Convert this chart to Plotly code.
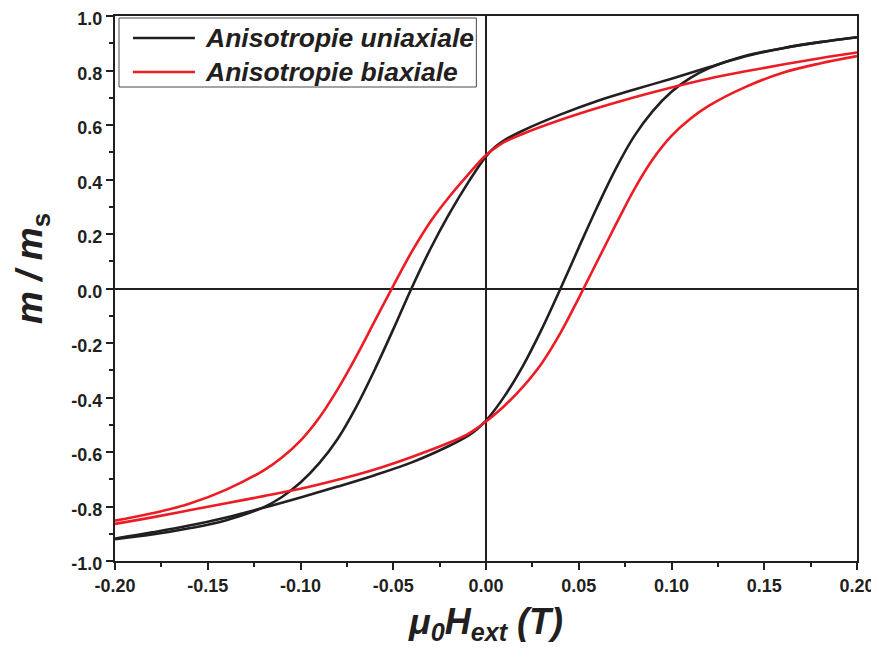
import plotly.graph_objects as go

# ---- data ----
# Uniaxial anisotropy: ascending branch
h_uni_up = [-0.20, -0.18, -0.16, -0.14, -0.12, -0.10, -0.08, -0.06, -0.04, -0.02, -0.01, -0.005,
            0.00, 0.01, 0.02, 0.03, 0.04, 0.05, 0.06, 0.07, 0.08, 0.09, 0.10, 0.11, 0.12, 0.14, 0.16, 0.18, 0.20]
m_uni_up = [-0.918, -0.895, -0.870, -0.840, -0.805, -0.767, -0.727, -0.685, -0.638, -0.578, -0.542, -0.517,
            -0.485, -0.395, -0.283, -0.150, -0.003, 0.150, 0.300, 0.440, 0.560, 0.652, 0.722, 0.772, 0.808, 0.854, 0.882, 0.904, 0.922]
# Uniaxial anisotropy: descending branch
h_uni_down = [0.20, 0.18, 0.16, 0.14, 0.12, 0.10, 0.08, 0.06, 0.04, 0.02, 0.01, 0.005,
              0.00, -0.01, -0.02, -0.03, -0.04, -0.05, -0.06, -0.07, -0.08, -0.09, -0.10, -0.11, -0.12,
              -0.14, -0.16, -0.18, -0.20]
m_uni_down = [0.922, 0.904, 0.882, 0.852, 0.812, 0.770, 0.730, 0.688, 0.638, 0.580, 0.545, 0.520,
              0.485, 0.385, 0.272, 0.145, 0.003, -0.150, -0.298, -0.435, -0.552, -0.642, -0.712, -0.765, -0.803,
              -0.850, -0.880, -0.903, -0.920]

# Biaxial anisotropy: ascending branch
h_bi_up = [-0.20, -0.18, -0.16, -0.14, -0.12, -0.10, -0.08, -0.06, -0.04, -0.02, -0.01, -0.005,
           0.00, 0.01, 0.02, 0.03, 0.04, 0.05, 0.06, 0.07, 0.08, 0.09, 0.10, 0.11, 0.12, 0.14, 0.16, 0.18, 0.20]
m_bi_up = [-0.864, -0.840, -0.814, -0.788, -0.762, -0.735, -0.702, -0.664, -0.618, -0.566, -0.535, -0.513,
           -0.488, -0.430, -0.360, -0.275, -0.165, -0.035, 0.100, 0.235, 0.365, 0.475, 0.560, 0.622, 0.670, 0.740, 0.792, 0.826, 0.853]
# Biaxial anisotropy: descending branch
h_bi_down = [0.20, 0.18, 0.16, 0.14, 0.12, 0.10, 0.08, 0.06, 0.04, 0.02, 0.01, 0.005,
             0.00, -0.01, -0.02, -0.03, -0.04, -0.05, -0.06, -0.07, -0.08, -0.09, -0.10, -0.11, -0.12,
             -0.14, -0.16, -0.18, -0.20]
m_bi_down = [0.866, 0.845, 0.822, 0.797, 0.770, 0.738, 0.702, 0.662, 0.618, 0.568, 0.538, 0.516,
             0.490, 0.415, 0.335, 0.245, 0.135, 0.010, -0.120, -0.250, -0.370, -0.475, -0.558, -0.620, -0.668,
             -0.738, -0.790, -0.825, -0.852]

series_names = ["Anisotropie uniaxiale", "Anisotropie biaxiale"]
series_colors = ["#231f20", "#ed1c24"]

x_tickvals = [-0.20, -0.15, -0.10, -0.05, 0.00, 0.05, 0.10, 0.15, 0.20]
x_ticktext = ["-0.20", "-0.15", "-0.10", "-0.05", "0.00", "0.05", "0.10", "0.15", "0.20"]
y_tickvals = [-1.0, -0.8, -0.6, -0.4, -0.2, 0.0, 0.2, 0.4, 0.6, 0.8, 1.0]
y_ticktext = ["-1.0", "-0.8", "-0.6", "-0.4", "-0.2", "0.0", "0.2", "0.4", "0.6", "0.8", "1.0"]

FONT = "Liberation Sans, Arial, sans-serif"
AX = "#231f20"
LW = 2.6

fig = go.Figure()
branches = [
    (h_uni_up, m_uni_up, h_uni_down, m_uni_down),
    (h_bi_up, m_bi_up, h_bi_down, m_bi_down),
]
for (hu, mu, hd, md), name, col in zip(branches, series_names, series_colors):
    fig.add_trace(go.Scatter(x=hu, y=mu, mode="lines", name=name, showlegend=False,
                             line=dict(color=col, width=LW, shape="spline", smoothing=1.0)))
    fig.add_trace(go.Scatter(x=hd, y=md, mode="lines", name=name, showlegend=False,
                             line=dict(color=col, width=LW, shape="spline", smoothing=1.0)))

# legend box drawn in paper coordinates (frame + key lines + labels)
leg_rows_y = [0.9596, 0.8972]
shapes = [dict(type="rect", xref="paper", yref="paper", x0=0.0054, x1=0.487, y0=0.8697, y1=0.9963,
               line=dict(color="#4a4a4a", width=1), fillcolor="white", layer="above")]
annotations = []
for name, col, yy in zip(series_names, series_colors, leg_rows_y):
    shapes.append(dict(type="line", xref="paper", yref="paper", x0=0.0242, x1=0.1077, y0=yy, y1=yy,
                       line=dict(color=col, width=LW), layer="above"))
    annotations.append(dict(text="<b><i>%s</i></b>" % name, xref="paper", yref="paper",
                            x=0.1184, y=yy, xanchor="left", yanchor="middle", showarrow=False,
                            font=dict(family=FONT, size=26.5, color=AX)))
annotations.append(dict(
    text="<b><i>m / m</i><sub>s</sub></b>", textangle=-90,
    xref="paper", yref="paper", x=-0.111, y=0.537, xanchor="center", yanchor="middle",
    showarrow=False, font=dict(family=FONT, size=37, color=AX),
))

fig.update_layout(
    width=871, height=641,
    margin=dict(l=107, r=22, t=8, b=88),
    paper_bgcolor="white", plot_bgcolor="white",
    font=dict(family=FONT, color=AX),
    showlegend=False,
    shapes=shapes,
    annotations=annotations,
    xaxis=dict(
        range=[-0.2, 0.2], tickvals=x_tickvals, ticktext=x_ticktext, automargin=False,
        ticklabeloverflow="allow",
        ticks="outside", ticklen=7, tickwidth=2, tickcolor=AX,
        minor=dict(dtick=0.025, tick0=0, ticks="outside", ticklen=4, tickwidth=2, tickcolor=AX, showgrid=False),
        showline=True, linecolor=AX, linewidth=2, mirror=True,
        showgrid=False, zeroline=True, zerolinecolor=AX, zerolinewidth=1.6,
        tickfont=dict(family=FONT, size=18, weight="bold", color=AX),
        title=dict(text="μ<sub>0</sub>H<sub>ext</sub> (T)",
                   font=dict(family=FONT, size=36, weight="bold", style="italic", color=AX),
                   standoff=14),
    ),
    yaxis=dict(
        range=[-1.0, 1.0], tickvals=y_tickvals, ticktext=y_ticktext, automargin=False,
        ticklabeloverflow="allow", ticklabelshift=3,
        ticks="outside", ticklen=7, tickwidth=2, tickcolor=AX,
        minor=dict(dtick=0.1, tick0=0, ticks="outside", ticklen=4, tickwidth=2, tickcolor=AX, showgrid=False),
        showline=True, linecolor=AX, linewidth=2, mirror=True,
        showgrid=False, zeroline=True, zerolinecolor=AX, zerolinewidth=1.6,
        tickfont=dict(family=FONT, size=18, weight="bold", color=AX),
    ),
)

fig.write_html("out.html")
